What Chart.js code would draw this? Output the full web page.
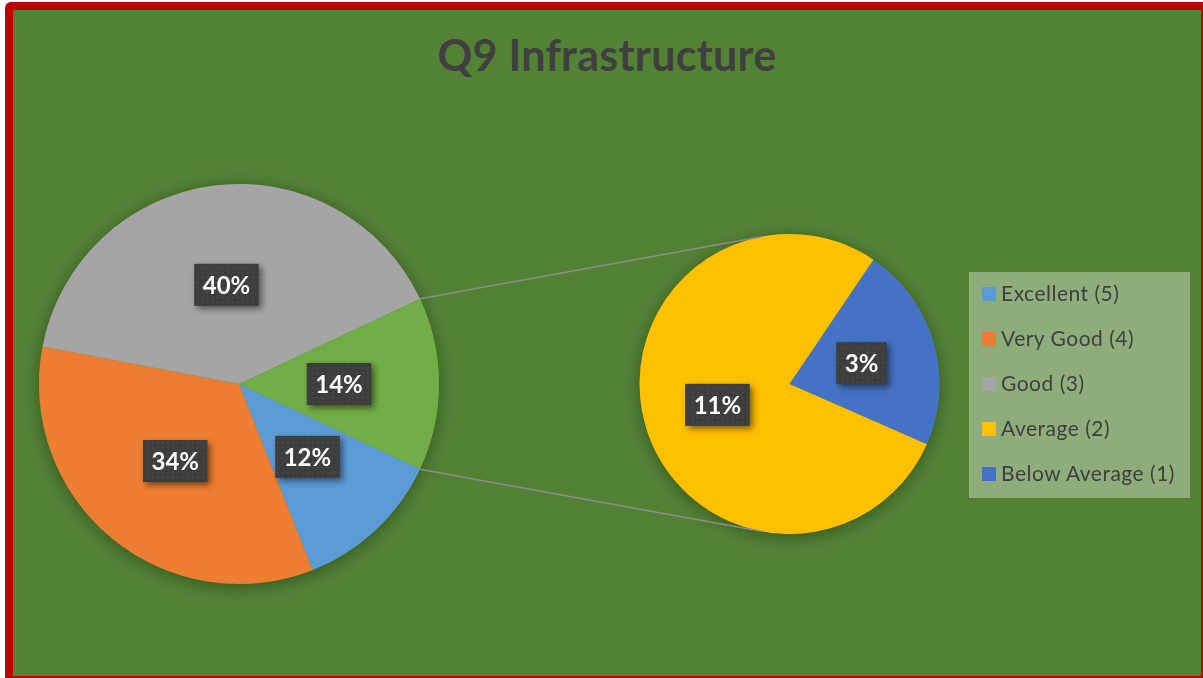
<!DOCTYPE html>
<html>
<head>
<meta charset="utf-8">
<script src="https://cdn.jsdelivr.net/npm/chart.js@4/dist/chart.umd.min.js"></script>
<style>
  body { margin: 0; width: 1203px; height: 678px; overflow: hidden; background: #fff; position: relative; font-family: Lato, "Open Sans", sans-serif; }
  #frame { position: absolute; left: 5px; top: 2px; width: 1188px; height: 666px; border: 8px solid #c00000; border-radius: 6px; background: #548235; }
  #title { position: absolute; left: 13px; width: 1188px; top: 29px; text-align: center; font-size: 43px; letter-spacing: 0.3px; line-height: 1.2; font-weight: bold; color: #404040; }
  canvas { position: absolute; left: 0; top: 0; }
  #legend { position: absolute; left: 969px; top: 272px; width: 221px; height: 226px; background: rgba(255,255,255,0.35); }
  .item { position: absolute; left: 13px; font-size: 21px; letter-spacing: 0.5px; line-height: 24px; color: #404040; white-space: nowrap; }
  .item span { position: absolute; left: 0; top: 6px; width: 14px; height: 14px; }
  .item b { font-weight: normal; margin-left: 19px; }
</style>
</head>
<body>
<div id="frame"></div>
<div id="title">Q9 Infrastructure</div>
<canvas id="mainPie" width="1203" height="678"></canvas>
<canvas id="subPie" width="1203" height="678"></canvas>
<div id="legend"></div>
<script>
// data (percent of all answers)
const subLabels = ['Below Average (1)', 'Average (2)'];
const subValues = [3.1, 10.9];
const subColors = ['#4472c4', '#ffc000'];

const mainLabels = ['Other', 'Excellent (5)', 'Very Good (4)', 'Good (3)'];
const mainValues = [subValues[0] + subValues[1], 12, 34, 40];
const mainColors = ['#70ad47', '#5b9bd5', '#ed7d31', '#a5a5a5'];

const legendLabels = ['Excellent (5)', 'Very Good (4)', 'Good (3)', 'Average (2)', 'Below Average (1)'];
const legendColors = ['#5b9bd5', '#ed7d31', '#a5a5a5', '#ffc000', '#4472c4'];

const BG = '#548235';

// dotted fill for the label boxes
const pat = document.createElement('canvas');
pat.width = 5; pat.height = 5;
const pctx = pat.getContext('2d');
pctx.fillStyle = '#3d3d3d';
pctx.fillRect(0, 0, 5, 5);
pctx.fillStyle = '#4c4c4c';
pctx.fillRect(2, 2, 1.5, 1.5);

// soft shadow under the whole pie
const pieShadow = {
  id: 'pieShadow',
  beforeDatasetsDraw(chart) {
    const arc = chart.getDatasetMeta(0).data[0];
    if (!arc) return;
    const ctx = chart.ctx;
    ctx.save();
    ctx.shadowColor = 'rgba(0,0,0,0.35)';
    ctx.shadowBlur = 18;
    ctx.shadowOffsetY = 3;
    ctx.fillStyle = BG;
    ctx.beginPath();
    ctx.arc(arc.x, arc.y, arc.outerRadius, 0, Math.PI * 2);
    ctx.fill();
    ctx.restore();
  }
};

// dark boxed percentage labels
const boxLabels = {
  id: 'boxLabels',
  afterDatasetsDraw(chart) {
    const ctx = chart.ctx;
    const values = chart.data.datasets[0].data;
    chart.getDatasetMeta(0).data.forEach((arc, i) => {
      const { x, y } = arc.tooltipPosition();
      const text = Math.round(values[i]) + '%';
      ctx.save();
      ctx.font = 'bold 24px Lato, sans-serif';
      const w = ctx.measureText(text).width + 17;
      const h = 42;
      ctx.shadowColor = 'rgba(0,0,0,0.5)';
      ctx.shadowBlur = 6;
      ctx.shadowOffsetX = 3;
      ctx.shadowOffsetY = 3;
      ctx.fillStyle = ctx.createPattern(pat, 'repeat');
      ctx.fillRect(x - w / 2, y - h / 2, w, h);
      ctx.shadowColor = 'transparent';
      ctx.fillStyle = '#fff';
      ctx.textAlign = 'center';
      ctx.textBaseline = 'middle';
      ctx.fillText(text, x, y + 1);
      ctx.restore();
    });
  }
};

let mainChart;

// connector lines from the "Other" slice to the second pie (tangents)
const connectors = {
  id: 'connectors',
  afterDatasetsDraw(chart) {
    const other = mainChart.getDatasetMeta(0).data[0];
    const sub = chart.getDatasetMeta(0).data[0];
    const ctx = chart.ctx;
    const cx = sub.x, cy = sub.y, r = sub.outerRadius;
    ctx.save();
    ctx.strokeStyle = '#8c8c8c';
    ctx.lineWidth = 1.5;
    [[other.startAngle, 1], [other.endAngle, -1]].forEach(([a, side]) => {
      const px = other.x + other.outerRadius * Math.cos(a);
      const py = other.y + other.outerRadius * Math.sin(a);
      const d = Math.hypot(px - cx, py - cy);
      const base = Math.atan2(py - cy, px - cx);
      const t = base + side * Math.acos(r / d);
      ctx.beginPath();
      ctx.moveTo(px, py);
      ctx.lineTo(cx + r * Math.cos(t), cy + r * Math.sin(t));
      ctx.stroke();
    });
    ctx.restore();
  }
};

const pieOptions = (rotation, padding) => ({
  responsive: false,
  animation: false,
  devicePixelRatio: 1,
  rotation,
  layout: { padding },
  plugins: { legend: { display: false }, tooltip: { enabled: false }, title: { display: false } },
  events: []
});

const otherShare = mainValues[0] / mainValues.reduce((a, b) => a + b, 0);

mainChart = new Chart(document.getElementById('mainPie'), {
  type: 'pie',
  data: {
    labels: mainLabels,
    datasets: [{ data: mainValues, backgroundColor: mainColors, borderWidth: 0, hoverOffset: 0 }]
  },
  options: pieOptions(90 - otherShare * 180, { left: 39, right: 764, top: 184, bottom: 94 }),
  plugins: [pieShadow, boxLabels]
});

new Chart(document.getElementById('subPie'), {
  type: 'pie',
  data: {
    labels: subLabels,
    datasets: [{ data: subValues, backgroundColor: subColors, borderWidth: 0, hoverOffset: 0 }]
  },
  options: pieOptions(34, { left: 639.5, right: 263.5, top: 234, bottom: 144 }),
  plugins: [pieShadow, connectors, boxLabels]
});

// legend
const legend = document.getElementById('legend');
legendLabels.forEach((lab, i) => {
  const row = document.createElement('div');
  row.className = 'item';
  row.style.top = (9 + 45 * i) + 'px';
  row.innerHTML = '<span style="background:' + legendColors[i] + '"></span><b>' + lab + '</b>';
  legend.appendChild(row);
});
</script>
</body>
</html>
